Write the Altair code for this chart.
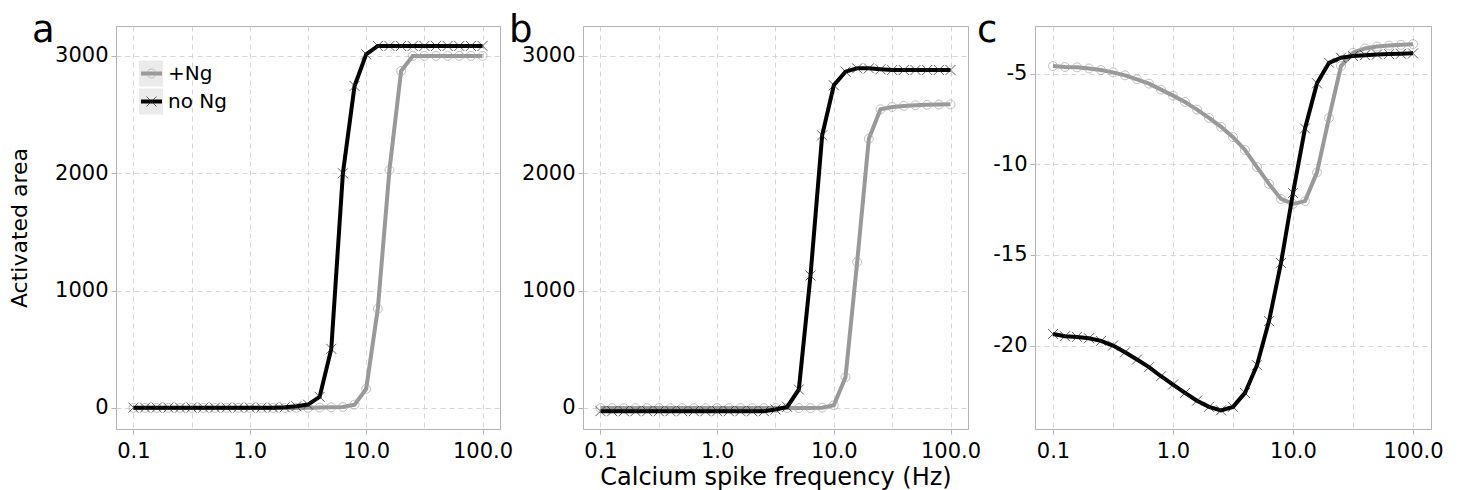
import altair as alt
import pandas as pd

# sample frequencies (Hz), 10 per decade
freq = [0.1, 0.1259, 0.1585, 0.1995, 0.2512, 0.3162, 0.3981, 0.5012, 0.631, 0.7943,
        1.0, 1.2589, 1.5849, 1.9953, 2.5119, 3.1623, 3.9811, 5.0119, 6.3096, 7.9433,
        10.0, 12.5893, 15.8489, 19.9526, 25.1189, 31.6228, 39.8107, 50.1187, 63.0957, 79.4328,
        100.0]

# panel a: activated area
a_ng = [0, 0, 0, 0, 0, 0, 0, 0, 0, 0,
        0, 0, 0, 0, 0, 1, 3, 5, 8, 28,
        162, 845, 2027, 2872, 3000, 3000, 3000, 3000, 3000, 3000,
        3000]
a_no = [2, 2, 2, 2, 2, 2, 2, 2, 2, 2,
        2, 2, 2, 5, 14, 28, 94, 503, 2000, 2744,
        3014, 3085, 3085, 3085, 3085, 3085, 3085, 3085, 3085, 3085,
        3085]

# panel b: activated area
b_ng = [-2, -2, -2, -2, -2, -2, -2, -2, -2, -2,
        -2, -2, -2, -2, -2, -2, -2, -2, -2, 2,
        23, 262, 1243, 2294, 2545, 2565, 2574, 2580, 2583, 2585,
        2587]
b_no = [-28, -28, -28, -28, -28, -28, -28, -28, -28, -28,
        -28, -28, -28, -28, -28, -14, 8, 157, 1128, 2323,
        2750, 2866, 2894, 2894, 2886, 2880, 2880, 2880, 2880, 2880,
        2880]

# panel c
c_ng = [-4.58, -4.63, -4.65, -4.71, -4.80, -4.93, -5.09, -5.31, -5.55, -5.88,
        -6.21, -6.56, -6.98, -7.44, -7.93, -8.50, -9.21, -10.15, -11.08, -11.91,
        -12.18, -12.03, -10.44, -7.44, -4.58, -3.85, -3.61, -3.50, -3.45, -3.41,
        -3.37]
c_no = [-19.36, -19.48, -19.52, -19.59, -19.74, -20.00, -20.37, -20.77, -21.19, -21.69,
        -22.15, -22.61, -23.04, -23.38, -23.57, -23.38, -22.61, -21.08, -18.65, -15.44,
        -11.58, -8.02, -5.53, -4.40, -4.12, -4.03, -3.98, -3.94, -3.92, -3.90,
        -3.88]

series_names = ["+Ng", "no Ng"]
panel_letters = ["a", "b", "c"]
x_major = [0.1, 1.0, 10.0, 100.0]
x_grid = [0.1, 0.31623, 1.0, 3.1623, 10.0, 31.623, 100.0]
y_ab = [0, 1000, 2000, 3000]
y_c = [-20, -15, -10, -5]

FONT = "DejaVu Sans"
GRAY = "#999999"
BLACK = "#000000"
GRID = "#d6d6d6"
HEIGHT = 403

major_test = "abs(log(datum.value)/LN10 - round(log(datum.value)/LN10)) < 0.1"


def panel(ng, no, ydomain, yvals, width, letter, letter_x, xtitle=None, ytitle=None, legend=False):
    df_ng = pd.DataFrame({"freq": freq, "value": ng})
    df_no = pd.DataFrame({"freq": freq, "value": no})
    x = alt.X("freq:Q",
              scale=alt.Scale(type="log", domain=[0.0708, 141.25], nice=False),
              axis=alt.Axis(values=x_grid, title=xtitle,
                            labelExpr=f"({major_test}) ? format(datum.value, '.1f') : ''",
                            tickOpacity=alt.condition(major_test, alt.value(1), alt.value(0)),
                            grid=True, gridDash=[5, 4], gridColor=GRID, gridWidth=1,
                            domain=False, tickColor="#b3b3b3", tickSize=5,
                            labelPadding=6, titlePadding=4,
                            labelFont=FONT, labelFontSize=21, labelColor="black",
                            titleFont=FONT, titleFontSize=24, titleFontWeight="normal",
                            titleColor="black"))
    y = alt.Y("value:Q",
              scale=alt.Scale(domain=ydomain, nice=False, zero=False),
              axis=alt.Axis(values=yvals, title=ytitle, labelExpr="datum.value + ''",
                            grid=True, gridDash=[5, 4], gridColor=GRID, gridWidth=1,
                            domain=False, tickColor="#b3b3b3", tickSize=5,
                            labelPadding=3, titlePadding=23,
                            labelFont=FONT, labelFontSize=21, labelColor="black",
                            titleFont=FONT, titleFontSize=22, titleFontWeight="normal",
                            titleColor="black"))
    line_ng = alt.Chart(df_ng).mark_line(color=GRAY, strokeWidth=4).encode(x=x, y=y)
    pts_ng = alt.Chart(df_ng).mark_point(shape="circle", filled=False, size=80,
                                         strokeWidth=1, color="#a6a6a6").encode(x=x, y=y)
    line_no = alt.Chart(df_no).mark_line(color=BLACK, strokeWidth=4).encode(x=x, y=y)
    pts_no = alt.Chart(df_no).mark_point(shape="M-1,-1L1,1M-1,1L1,-1", filled=False, size=100,
                                         strokeWidth=1, color="#222222").encode(x=x, y=y)
    layers = [line_ng, pts_ng, line_no, pts_no]

    lab = alt.Chart(pd.DataFrame({"t": [letter]})).mark_text(
        font=FONT, fontSize=37, align="left", baseline="alphabetic", color="black"
    ).encode(text="t:N", x=alt.value(letter_x), y=alt.value(16))
    layers.append(lab)

    if legend:
        leg1 = alt.Chart(pd.DataFrame({"t": [series_names[0]]}))
        leg2 = alt.Chart(pd.DataFrame({"t": [series_names[1]]}))
        for lg, yc, col, shp, sz, sc in [(leg1, 47.5, GRAY, "circle", 80, "#a6a6a6"),
                                         (leg2, 75.5, BLACK, "M-1,-1L1,1M-1,1L1,-1", 100, "#222222")]:
            layers.append(lg.mark_rect(color="#ebebeb").encode(
                x=alt.value(23), x2=alt.value(47), y=alt.value(yc - 13), y2=alt.value(yc + 13)))
            layers.append(lg.mark_rule(color=col, strokeWidth=4).encode(
                x=alt.value(25), x2=alt.value(46), y=alt.value(yc)))
            layers.append(lg.mark_point(shape=shp, filled=False, size=sz, strokeWidth=1,
                                        color=sc).encode(x=alt.value(35.5), y=alt.value(yc)))
            layers.append(lg.mark_text(font=FONT, fontSize=20, align="left", baseline="middle",
                                       color="black").encode(
                text="t:N", x=alt.value(52), y=alt.value(yc)))

    return alt.layer(*layers).properties(width=width, height=HEIGHT)


pa = panel(a_ng, a_no, [-180, 3255], y_ab, 384, "a", -84, ytitle="Activated area", legend=True)
pb = panel(b_ng, b_no, [-180, 3255], y_ab, 385, "b", -74, xtitle="Calcium spike frequency (Hz)")
pc = panel(c_ng, c_no, [-24.6, -2.37], y_c, 396, "c", -58)

chart = alt.hconcat(pa, pb, pc, spacing=-6).configure_view(
    stroke="#b3b3b3", strokeWidth=1
).properties(padding={"left": 0, "top": 3, "right": 5, "bottom": 5})

chart.save("out.html", embed_options={"renderer": "svg", "actions": False})
